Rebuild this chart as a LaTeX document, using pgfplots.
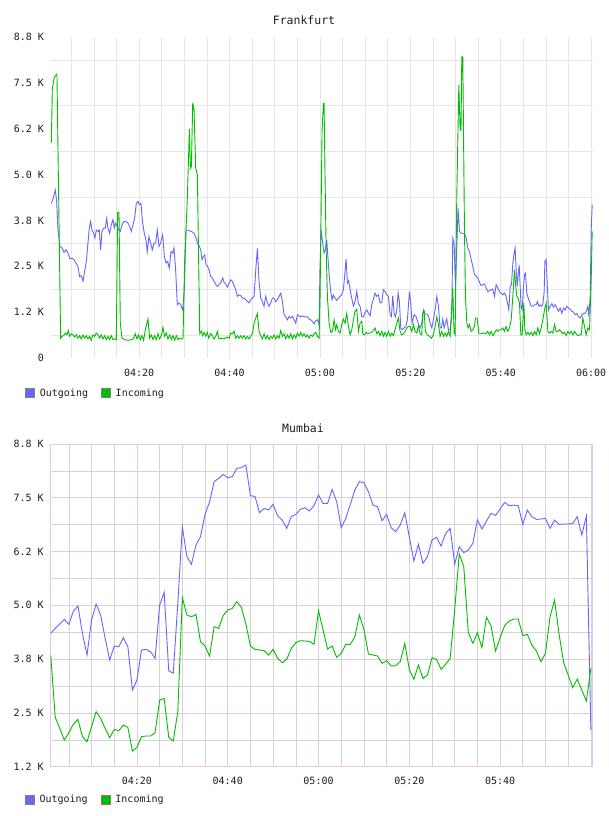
\documentclass[border=0pt]{standalone}
\usepackage{pgfplots}
\pgfplotsset{compat=1.18}
\usepackage{fontspec}
\setmainfont{DejaVu Sans Mono}
\definecolor{outc}{RGB}{102,102,255}
\definecolor{inc}{RGB}{0,190,0}
\definecolor{fgrid}{RGB}{230,230,230}
\definecolor{mmaj}{RGB}{228,200,228}
\definecolor{mmin}{RGB}{216,210,216}
\definecolor{txt}{RGB}{30,30,30}
\pgfplotsset{
  sqlegend/.style={legend image code/.code={\draw[draw=gray, line width=1.2pt, fill=#1] (0pt,-4.5pt) rectangle (9pt,4.5pt);}},
  chartbase/.style={
    scale only axis, width=542pt,
    xmax=120.4, ymax=8750,
    major tick length=0pt, minor tick length=0pt,
    tick style={draw=none},
    ticklabel style={font=\fontsize{10}{12}\selectfont, text=txt},
    ytick={0,1250,2500,3750,5000,6250,7500,8750},
    yticklabel style={xshift=-3.5pt},
    legend style={draw=none, fill=none, inner sep=0pt, legend columns=2,
      font=\fontsize{10}{12}\selectfont, text=txt,
      /tikz/every odd column/.append style={column sep=2.5pt},
      /tikz/every even column/.append style={column sep=11pt}},
    legend cell align=left,
  }
}
\begin{document}
\begin{tikzpicture}
\fill[white] (0,0) rectangle (608pt,816pt);
\path[use as bounding box] (0,0) rectangle (608pt,816pt);
\node[font=\fontsize{11.5}{13}\selectfont, text=txt] at (304pt,796pt) {Frankfurt};
\node[font=\fontsize{11.5}{13}\selectfont, text=txt] at (303pt,388pt) {Mumbai};
% ---------------- Frankfurt ----------------
\begin{axis}[chartbase,
  at={(51pt,458pt)}, anchor=south west, height=321pt,
  xmin=0.51, ymin=0,
  axis line style={draw=none},
  xtick={20,40,60,80,100,120},
  xticklabels={04:20,04:40,05:00,05:20,05:40,06:00},
  xticklabel style={yshift=-8pt},
  minor xtick={5,10,15,25,30,35,45,50,55,65,70,75,85,90,95,105,110,115},
  minor ytick={625,1875,3125,4375,5625,6875,8125},
  yticklabels={0,1.2 K,2.5 K,3.8 K,5.0 K,6.2 K,7.5 K,8.8 K},
  xmajorgrids, xminorgrids, yminorgrids,
  major grid style={fgrid, line width=0.8pt},
  minor grid style={fgrid, line width=0.8pt},
  legend style={at={(axis description cs:-0.048,-0.109)}, anchor=west},
]
\addplot[outc, line width=0.9pt, sqlegend=outc] coordinates {
(0.58,4220)(0.94,4330)(1.46,4580)(1.76,4270)(2.05,3490)(2.49,3040)(2.94,3000)(3.38,2880)(3.82,2950)(4.26,2860)
(4.71,2700)(5.15,2720)(5.59,2680)(6.03,2590)(6.47,2500)(6.84,2220)(7.21,2240)(7.58,2090)(7.95,2360)(8.32,2630)
(8.69,3130)(8.98,3540)(9.28,3720)(9.57,3490)(9.94,3400)(10.24,3270)(10.53,3490)(10.9,3450)(11.19,3490)(11.49,2950)
(11.78,3450)(12.15,3540)(12.52,3540)(12.82,3810)(13.11,3540)(13.48,3400)(13.85,3630)(14.22,3770)(14.51,3540)(14.81,3680)
(15.1,3590)(15.47,3490)(15.84,3450)(16.21,3630)(16.65,3720)(17.09,3720)(17.54,3680)(17.9,3590)(18.27,3450)(18.64,3630)
(19.01,3810)(19.38,4220)(19.75,4270)(20.04,4180)(20.41,4220)(20.78,3680)(21.15,3400)(21.52,3220)(21.81,2900)(22.18,3310)
(22.55,3130)(22.92,2950)(23.29,3130)(23.66,3130)(24.03,3490)(24.4,3040)(24.76,3130)(25.21,3360)(25.58,2770)(25.94,2590)
(26.31,2630)(26.68,2450)(27.05,2900)(27.42,2860)(27.71,3000)(28.08,2400)(28.45,1450)(28.82,1500)(29.19,1450)(29.63,1310)
(30.0,1860)(30.37,3490)(30.68,3490)(31.05,3470)(31.56,3450)(32.15,3400)(32.6,3270)(32.89,3130)(33.26,3060)(33.63,2950)
(33.92,2680)(34.22,2770)(34.51,2810)(34.81,2540)(35.1,2510)(35.47,2400)(35.84,2220)(36.21,2180)(36.58,2090)(36.95,2000)
(37.31,1950)(37.68,2000)(38.05,2040)(38.5,2180)(38.79,2060)(39.16,2020)(39.53,1930)(39.9,2040)(40.26,2130)(40.63,2090)
(41.0,1970)(41.37,1860)(41.74,1680)(42.11,1720)(42.48,1700)(42.85,1630)(43.21,1630)(43.58,1590)(43.95,1540)(44.32,1500)
(44.69,1590)(45.06,1630)(45.43,1680)(45.8,2400)(46.16,2990)(46.53,2090)(46.9,1630)(47.27,1540)(47.64,1410)(48.01,1680)
(48.38,1500)(48.75,1410)(49.11,1500)(49.48,1630)(49.85,1630)(50.22,1540)(50.59,1590)(50.96,1680)(51.33,1770)(51.7,1540)
(52.06,1180)(52.43,1130)(52.8,1040)(53.17,1130)(53.54,1090)(53.91,1130)(54.28,1040)(54.65,950)(55.01,1180)(55.38,1150)
(55.75,1120)(56.12,1150)(56.49,1130)(56.86,1120)(57.23,1120)(57.6,1060)(57.96,1040)(58.33,1000)(58.7,930)(59.07,1020)
(59.44,1040)(59.81,910)(60.0,2400)(60.25,3490)(60.62,3130)(60.91,2860)(61.21,2950)(61.5,3220)(61.8,2680)(62.1,2180)
(62.39,1810)(62.68,1590)(62.98,1720)(63.35,1630)(63.72,1570)(64.09,1630)(64.45,1680)(64.82,1720)(65.19,1860)(65.49,2270)
(65.78,2700)(66.08,2040)(66.37,2110)(66.67,1860)(67.04,1630)(67.4,1420)(67.77,1540)(68.14,1810)(68.51,1480)(68.88,1410)
(69.25,1130)(69.62,1120)(69.99,1240)(70.35,1310)(70.72,1220)(71.09,1150)(71.46,1450)(71.83,1610)(72.2,1770)(72.57,1680)
(72.94,1720)(73.3,1500)(73.67,1510)(74.04,1860)(74.41,1810)(74.78,1720)(75.15,1680)(75.52,1180)(75.81,1130)(76.1,1700)
(76.4,1220)(76.7,1120)(76.99,1300)(77.29,1770)(77.58,1540)(77.88,820)(78.25,770)(78.61,820)(78.98,860)(79.35,1040)
(79.79,1810)(80.09,1500)(80.38,950)(80.83,1180)(81.27,1130)(81.71,950)(82.15,820)(82.52,950)(82.89,1310)(83.26,1200)
(83.63,1200)(84.0,1150)(84.37,950)(84.74,820)(85.1,1040)(85.47,1310)(85.84,1680)(86.21,1410)(86.58,820)(86.87,820)
(87.17,1060)(87.46,820)(87.76,950)(88.05,1060)(88.42,770)(88.79,770)(89.16,1130)(89.38,3270)(89.68,3130)(89.97,1950)
(90.27,3040)(90.56,4080)(90.87,3450)(91.24,3400)(91.6,3400)(91.97,3390)(92.34,3270)(92.71,3000)(93.08,2900)(93.45,2680)
(93.82,2500)(94.19,2270)(94.55,2240)(94.92,2180)(95.29,2060)(95.66,1970)(96.03,2000)(96.4,2020)(96.77,1910)(97.14,1810)
(97.5,1840)(97.87,1860)(98.24,1880)(98.61,1680)(98.98,2000)(99.35,1910)(99.72,1810)(100.09,1770)(100.45,1720)(100.82,1770)
(101.19,1680)(101.56,1450)(101.78,1310)(102.08,1950)(102.37,2000)(102.67,2590)(102.96,2860)(103.18,2990)(103.4,2400)(103.63,1950)
(103.85,2270)(104.07,2540)(104.29,1950)(104.51,1360)(104.73,1310)(105.03,1950)(105.25,2270)(105.47,2310)(105.76,1770)(106.06,1630)
(106.35,1540)(106.72,1410)(107.09,1410)(107.46,1450)(107.83,1450)(108.12,1540)(108.42,1410)(108.71,1450)(109.01,1410)(109.3,1450)
(109.6,1810)(109.75,2630)(110.04,2680)(110.26,2040)(110.56,1310)(110.93,1410)(111.3,1480)(111.66,1390)(112.03,1450)(112.4,1360)
(112.77,1270)(113.14,1360)(113.51,1220)(113.88,1360)(114.25,1310)(114.61,1410)(114.98,1360)(115.35,1330)(115.72,1270)(116.09,1250)
(116.46,1180)(116.83,1210)(117.2,1130)(117.56,1090)(117.93,1180)(118.3,1210)(118.67,1220)(119.04,1310)(119.26,1410)(119.48,1130)
(119.78,1680)(120.0,3490)(120.22,4180)
};
\addlegendentry{Outgoing}
\addplot[inc, line width=0.9pt, sqlegend=inc] coordinates {
(0.58,5870)(0.8,7310)(1.17,7620)(1.46,7690)(1.76,7735)(1.83,7700)(2.64,540)(2.94,590)(3.3,610)(3.67,680)
(4.04,630)(4.34,750)(4.63,590)(5.0,660)(5.37,630)(5.74,570)(6.11,630)(6.47,540)(6.84,610)(7.21,520)
(7.58,625)(7.95,540)(8.32,610)(8.69,520)(9.06,590)(9.42,480)(9.79,630)(10.16,590)(10.53,680)(10.9,630)
(11.27,540)(11.64,630)(12.0,520)(12.37,610)(12.74,500)(13.11,590)(13.48,500)(13.85,610)(14.22,500)(14.59,520)
(14.96,500)(15.25,3970)(15.55,3970)(15.84,950)(16.21,540)(16.8,500)(17.54,480)(18.27,500)(18.72,520)(19.16,660)
(19.53,520)(19.9,630)(20.26,500)(20.63,610)(21.0,480)(21.37,770)(21.74,950)(21.96,1060)(22.33,540)(22.7,630)
(23.07,500)(23.44,610)(23.81,500)(24.17,660)(24.54,520)(24.98,630)(25.28,840)(25.65,590)(26.02,680)(26.39,520)
(26.76,630)(27.12,500)(27.49,610)(27.86,480)(28.23,610)(28.6,500)(28.97,540)(29.34,520)(29.71,520)(30.07,2590)
(30.68,4400)(31.12,6240)(31.34,5170)(31.56,5220)(31.86,6960)(32.15,6760)(32.52,5170)(32.89,5000)(33.41,660)(33.77,730)
(34.07,610)(34.36,700)(34.73,590)(35.1,700)(35.4,540)(35.84,660)(36.21,610)(36.58,520)(36.95,590)(37.31,720)
(37.68,520)(38.05,540)(38.79,520)(39.38,570)(39.9,540)(40.26,680)(40.63,660)(41.0,730)(41.37,540)(41.74,610)
(42.11,540)(42.48,610)(42.85,540)(43.21,610)(43.58,520)(43.95,590)(44.32,520)(44.69,590)(45.06,660)(45.43,950)
(45.8,1090)(46.16,1210)(46.53,730)(46.9,610)(47.27,520)(47.64,660)(48.01,520)(48.38,610)(48.75,500)(49.11,590)
(49.48,540)(49.85,630)(50.22,520)(50.59,610)(50.96,540)(51.33,750)(51.7,590)(52.06,660)(52.43,520)(52.8,630)
(53.17,540)(53.54,660)(53.91,520)(54.28,630)(54.65,540)(55.01,680)(55.38,590)(55.75,700)(56.12,590)(56.49,660)
(56.86,570)(57.23,630)(57.6,540)(57.96,630)(58.33,590)(58.7,660)(59.07,700)(59.44,590)(59.81,540)(60.03,1680)
(60.47,6220)(60.77,6940)(60.91,6930)(61.14,4860)(61.36,3040)(61.65,1680)(62.02,950)(62.39,700)(62.76,725)(63.13,1040)
(63.42,770)(63.72,910)(64.09,725)(64.45,680)(64.82,910)(65.19,1060)(65.56,950)(65.93,1220)(66.3,860)(66.67,630)
(67.04,770)(67.4,1040)(67.77,1270)(68.14,1330)(68.51,725)(68.88,950)(69.25,1000)(69.47,660)(69.84,630)(70.21,700)
(70.58,660)(71.09,680)(71.68,725)(72.2,820)(72.57,660)(72.94,725)(73.3,610)(73.67,725)(74.04,590)(74.41,700)
(74.78,590)(75.15,725)(75.52,590)(75.88,680)(76.25,610)(76.62,770)(76.99,950)(77.36,1090)(77.73,725)(78.1,630)
(78.47,660)(78.84,725)(79.2,820)(79.57,860)(79.94,860)(80.31,725)(80.68,910)(81.05,725)(81.42,680)(81.79,880)
(82.15,660)(82.52,630)(82.74,1220)(83.04,1270)(83.33,725)(83.78,630)(84.22,590)(84.66,540)(85.1,630)(85.47,860)
(85.84,1120)(86.21,910)(86.58,590)(86.95,725)(87.32,590)(87.69,680)(88.05,590)(88.42,725)(88.79,590)(89.16,1410)
(89.38,1900)(89.68,680)(89.9,630)(90.27,4400)(90.72,7440)(91.01,6220)(91.2,6200)(91.38,8216)(91.6,8200)(91.75,6220)
(91.97,3490)(92.19,1680)(92.49,950)(92.78,820)(93.08,910)(93.45,725)(93.82,770)(94.19,860)(94.41,1090)(94.78,1090)
(95.14,660)(95.66,660)(96.18,680)(96.62,660)(97.14,725)(97.5,630)(97.87,725)(98.24,610)(98.61,680)(98.98,770)
(99.35,725)(99.72,770)(100.09,770)(100.45,820)(100.82,725)(101.19,860)(101.56,725)(101.93,820)(102.3,1040)(102.67,1680)
(103.04,2405)(103.26,2040)(103.55,1680)(103.85,1630)(104.14,1500)(104.44,630)(104.73,630)(105.1,1500)(105.32,770)(105.62,630)
(105.99,700)(106.35,630)(106.72,700)(107.09,610)(107.46,725)(107.83,630)(108.2,820)(108.57,660)(108.94,820)(109.3,1040)
(109.67,1310)(110.04,1500)(110.41,725)(110.78,680)(111.15,725)(111.52,680)(111.89,910)(112.25,725)(112.62,725)(112.99,770)
(113.36,725)(113.73,660)(114.1,700)(114.47,610)(114.84,725)(115.2,660)(115.57,725)(115.94,630)(116.31,725)(116.68,660)
(117.05,610)(117.42,630)(117.79,630)(118.15,1090)(118.52,860)(118.89,630)(119.26,820)(119.63,770)(120.0,2130)(120.22,3450)
};
\addlegendentry{Incoming}
\end{axis}
% ---------------- Mumbai ----------------
\begin{axis}[chartbase,
  at={(50.7pt,49.3pt)}, anchor=south west, height=322.7pt,
  xmin=1, ymin=1250,
  axis line style={draw=mmaj, line width=0.8pt},
  xtick={20,40,60,80,100},
  xticklabels={04:20,04:40,05:00,05:20,05:40},
  xticklabel style={yshift=-6.5pt},
  minor xtick={5,10,15,25,30,35,45,50,55,65,70,75,85,90,95,105,110,115,120},
  ytick={1250,2500,3750,5000,6250,7500,8750},
  yticklabels={1.2 K,2.5 K,3.8 K,5.0 K,6.2 K,7.5 K,8.8 K},
  minor ytick={1875,3125,4375,5625,6875,8125},
  xmajorgrids, xminorgrids, ymajorgrids, yminorgrids,
  major grid style={mmaj, line width=0.8pt},
  minor grid style={mmin, line width=0.6pt},
  legend style={at={(axis description cs:-0.048,-0.103)}, anchor=west},
]
\addplot[outc, line width=0.9pt, sqlegend=outc] coordinates {
(1,4349)(2,4465)(3,4566)(4,4674)(5,4558)(6,4868)(7,4984)(8,4349)(9,3845)(10,4659)
(11,5030)(12,4775)(13,4233)(14,3729)(15,4054)(16,4039)(17,4248)(18,4039)(19,3032)(20,3264)
(21,3961)(22,3977)(23,3923)(24,3768)(25,5007)(26,5302)(27,3481)(28,3419)(29,5050)(30,6828)
(31,6131)(32,5953)(33,6402)(34,6595)(35,7114)(36,7409)(37,7874)(38,7951)(39,8044)(40,7967)
(41,7990)(42,8184)(43,8199)(44,8261)(45,7548)(46,7533)(47,7153)(48,7254)(49,7215)(50,7347)
(51,7076)(52,6983)(53,6789)(54,7060)(55,7114)(56,7231)(57,7269)(58,7192)(59,7316)(60,7564)
(61,7370)(62,7370)(63,7696)(64,7409)(65,6805)(66,7022)(67,7347)(68,7680)(69,7874)(70,7851)
(71,7642)(72,7331)(73,7293)(74,6967)(75,7114)(76,6805)(77,6712)(78,6867)(79,7153)(80,6595)
(81,6030)(82,6417)(83,5976)(84,6131)(85,6518)(86,6580)(87,6379)(88,6673)(89,6789)(90,5960)
(91,6363)(92,6224)(93,6286)(94,6441)(95,6983)(96,6774)(97,6960)(98,7138)(99,7091)(100,7238)
(101,7393)(102,7316)(103,7331)(104,7316)(105,6882)(106,7215)(107,7060)(108,6998)(109,7006)(110,7022)
(111,6789)(112,6983)(113,6882)(114,6890)(115,6890)(116,6905)(117,7060)(118,6634)(119,7076)(120,2100)
};
\addlegendentry{Outgoing}
\addplot[inc, line width=0.9pt, sqlegend=inc] coordinates {
(1,3845)(2,2397)(3,2141)(4,1870)(5,2040)(6,2242)(7,2350)(8,1947)(9,1831)(10,2180)
(11,2528)(12,2373)(13,2141)(14,1924)(15,2118)(16,2087)(17,2218)(18,2164)(19,1614)(20,1699)
(21,1947)(22,1963)(23,1963)(24,2040)(25,2799)(26,2838)(27,1932)(28,1847)(29,2528)(30,5180)
(31,4775)(32,4736)(33,4790)(34,4155)(35,4054)(36,3822)(37,4504)(38,4465)(39,4759)(40,4891)
(41,4930)(42,5085)(43,4953)(44,4566)(45,4054)(46,3977)(47,3961)(48,3946)(49,3845)(50,3977)
(51,3768)(52,3667)(53,3744)(54,4000)(55,4132)(56,4178)(57,4171)(58,4163)(59,4093)(60,4876)
(61,4426)(62,3985)(63,4054)(64,3791)(65,3884)(66,4093)(67,4093)(68,4271)(69,4775)(70,4442)
(71,3868)(72,3845)(73,3822)(74,3652)(75,3714)(76,3590)(77,3597)(78,3690)(79,4116)(80,3512)
(81,3280)(82,3613)(83,3303)(84,3380)(85,3783)(86,3744)(87,3512)(88,3628)(89,3768)(90,4900)
(91,6193)(92,5898)(93,4364)(94,4116)(95,4364)(96,4016)(97,4721)(98,4527)(99,3938)(100,4248)
(101,4527)(102,4636)(103,4682)(104,4682)(105,4295)(106,4326)(107,4078)(108,3938)(109,3690)(110,3884)
(111,4736)(112,5124)(113,4326)(114,3667)(115,3380)(116,3086)(117,3287)(118,3032)(119,2776)(120,3535)
};
\addlegendentry{Incoming}
\end{axis}
\end{tikzpicture}
\end{document}
